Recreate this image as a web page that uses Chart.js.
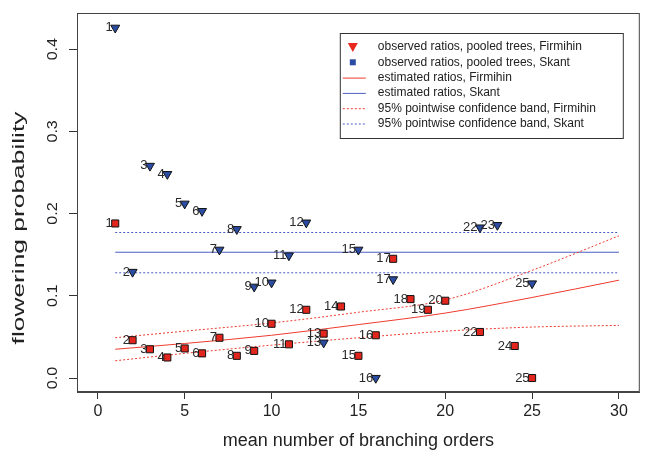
<!DOCTYPE html>
<html>
<head>
<meta charset="utf-8">
<script src="https://cdn.jsdelivr.net/npm/chart.js@4/dist/chart.umd.min.js"></script>
<style>
  html, body { margin: 0; padding: 0; background: #fff; }
</style>
</head>
<body>
<canvas id="chart" width="646" height="450"></canvas>
<script>
// observed ratios, Skant (blue triangles)
const skantIds = [1, 2, 3, 4, 5, 6, 7, 8, 9, 10, 11, 12, 13, 15, 16, 17, 22, 23, 25];
const skantX = [1, 2, 3, 4, 5, 6, 7, 8, 9, 10, 11, 12, 13, 15, 16, 17, 22, 23, 25];
const skantY = [0.426, 0.129, 0.258, 0.248, 0.212, 0.203, 0.156, 0.181, 0.111, 0.116,
  0.149, 0.189, 0.043, 0.156, 0.0, 0.120, 0.183, 0.186, 0.115];

// observed ratios, Firmihin (red squares)
const firmIds = [1, 2, 3, 4, 5, 6, 7, 8, 9, 10, 11, 12, 13, 14, 15, 16, 17, 18, 19, 20, 22, 24, 25];
const firmX = [1, 2, 3, 4, 5, 6, 7, 8, 9, 10, 11, 12, 13, 14, 15, 16, 17, 18, 19, 20, 22, 24, 25];
const firmY = [0.188, 0.046, 0.035, 0.025, 0.036, 0.030, 0.049, 0.027, 0.033, 0.066,
  0.041, 0.083, 0.054, 0.087, 0.027, 0.052, 0.145, 0.096, 0.083, 0.094, 0.056, 0.039, 0.0];

// fitted curves
const curveX = [1, 5, 10, 15, 20, 25, 30];
const firmEst = [0.035, 0.042, 0.052, 0.065, 0.079, 0.098, 0.119];
const firmUp = [0.049, 0.057, 0.067, 0.080, 0.095, 0.131, 0.173];
const firmLo = [0.021, 0.030, 0.040, 0.049, 0.057, 0.062, 0.064];

const lineX = [1, 30];
const skantEst = [0.153, 0.153];
const skantUp = [0.177, 0.177];
const skantLo = [0.128, 0.128];

const xTicks = [0, 5, 10, 15, 20, 25, 30];
const yTicks = [0, 0.1, 0.2, 0.3, 0.4];
const yTickLabels = ["0.0", "0.1", "0.2", "0.3", "0.4"];

const legendItems = [
  { text: "observed ratios, pooled trees, Firmihin", kind: "tri", color: "#e8281e" },
  { text: "observed ratios, pooled trees, Skant", kind: "sq", color: "#2b4ca3" },
  { text: "estimated ratios, Firmihin", kind: "line", color: "#ee3b2e" },
  { text: "estimated ratios, Skant", kind: "line", color: "#4a5ec0" },
  { text: "95% pointwise confidence band, Firmihin", kind: "dot", color: "#ee3b2e" },
  { text: "95% pointwise confidence band, Skant", kind: "dot", color: "#4a5ec0" },
];

const FONT = "'Liberation Sans', Arial, Helvetica, sans-serif";
const RED = "#ee3b2e";
const BLUE = "#4a5ec0";

const pts = (xs, ys) => xs.map((x, i) => ({ x: x, y: ys[i] }));

function curve(xs, ys, color, dash) {
  return {
    type: "line",
    data: pts(xs, ys),
    borderColor: color,
    borderWidth: 1,
    borderDash: dash,
    pointRadius: 0,
    fill: false,
    cubicInterpolationMode: "monotone",
  };
}

// number labels left of each point
const pointLabels = {
  id: "pointLabels",
  afterDatasetsDraw(chart) {
    const ctx = chart.ctx;
    ctx.save();
    ctx.font = "13px " + FONT;
    ctx.fillStyle = "#2a2a2a";
    ctx.textAlign = "right";
    ctx.textBaseline = "middle";
    chart.data.datasets.forEach((ds, di) => {
      if (!ds.ids) return;
      chart.getDatasetMeta(di).data.forEach((el, i) => {
        ctx.fillText(String(ds.ids[i]), el.x - 2.5, el.y);
      });
    });
    ctx.restore();
  },
};

// R style box, y labels and legend
const rFrame = {
  id: "rFrame",
  afterDraw(chart) {
    const ctx = chart.ctx;
    const a = chart.chartArea;
    const ys = chart.scales.y;
    ctx.save();
    ctx.strokeStyle = "#444";
    ctx.lineWidth = 1;
    ctx.strokeRect(a.left + 0.5, a.top + 0.5, a.right - a.left - 1, a.bottom - a.top - 1);

    // rotated y tick labels
    ctx.fillStyle = "#222";
    ctx.textAlign = "center";
    ctx.textBaseline = "middle";
    yTicks.forEach((v, i) => {
      ctx.save();
      ctx.translate(a.left - 24, ys.getPixelForValue(v));
      ctx.rotate(-Math.PI / 2);
      ctx.scale(1.15, 1);
      ctx.font = "14px " + FONT;
      ctx.fillText(yTickLabels[i], 0, 0);
      ctx.restore();
    });

    // y axis title
    ctx.save();
    ctx.translate(19, 228);
    ctx.rotate(-Math.PI / 2);
    ctx.scale(1.55, 1);
    ctx.font = "17px " + FONT;
    ctx.fillText("flowering probability", 0, 0);
    ctx.restore();

    // legend box
    const lx = a.right - 300, ly = a.top + 20, lw = 283, lh = 105;
    ctx.strokeStyle = "#333";
    ctx.strokeRect(lx + 0.5, ly + 0.5, lw, lh);
    ctx.font = "12px " + FONT;
    ctx.textAlign = "left";
    legendItems.forEach((it, i) => {
      const cy = ly + 14 + i * 15.3;
      const sx = lx + 13;
      ctx.fillStyle = it.color;
      ctx.strokeStyle = it.color;
      if (it.kind === "tri") {
        ctx.beginPath();
        ctx.moveTo(sx - 5, cy - 4);
        ctx.lineTo(sx + 5, cy - 4);
        ctx.lineTo(sx, cy + 5);
        ctx.closePath();
        ctx.fill();
      } else if (it.kind === "sq") {
        ctx.fillRect(sx - 3, cy - 3, 6, 6);
      } else {
        ctx.setLineDash(it.kind === "dot" ? [2, 2] : []);
        ctx.beginPath();
        ctx.moveTo(lx + 3, cy + 0.5);
        ctx.lineTo(lx + 26, cy + 0.5);
        ctx.stroke();
        ctx.setLineDash([]);
      }
      ctx.fillStyle = "#222";
      ctx.fillText(it.text, lx + 38, cy);
    });
    ctx.restore();
  },
};

new Chart(document.getElementById("chart"), {
  type: "scatter",
  data: {
    datasets: [
      {
        data: pts(skantX, skantY),
        ids: skantIds,
        pointStyle: "triangle",
        rotation: 180,
        radius: 5.2,
        backgroundColor: "#2b4ca3",
        borderColor: "#111",
        borderWidth: 1,
      },
      {
        data: pts(firmX, firmY),
        ids: firmIds,
        pointStyle: "rect",
        radius: 5,
        backgroundColor: "#e2261d",
        borderColor: "#111",
        borderWidth: 1,
      },
      curve(curveX, firmEst, RED, []),
      curve(curveX, firmUp, RED, [2, 2]),
      curve(curveX, firmLo, RED, [2, 2]),
      curve(lineX, skantEst, BLUE, []),
      curve(lineX, skantUp, BLUE, [2, 2]),
      curve(lineX, skantLo, BLUE, [2, 2]),
    ],
  },
  options: {
    responsive: false,
    animation: false,
    devicePixelRatio: 1,
    layout: { padding: { top: 13, right: 2, left: 0, bottom: 0 } },
    plugins: { legend: { display: false }, tooltip: { enabled: false } },
    scales: {
      x: {
        type: "linear",
        min: -1.2,
        max: 31.2,
        afterBuildTicks: (s) => { s.ticks = xTicks.map((v) => ({ value: v })); },
        afterFit: (s) => { s.height = 58; },
        grid: { drawOnChartArea: false, drawTicks: true, tickLength: 7, color: "#333" },
        border: { display: true, color: "#444" },
        ticks: { color: "#222", font: { size: 16, family: FONT }, padding: 3, maxRotation: 0 },
        title: {
          display: true,
          text: "mean number of branching orders",
          color: "#222",
          font: { size: 18, family: FONT, lineHeight: 1 },
          padding: { top: 4, bottom: 0 },
        },
      },
      y: {
        type: "linear",
        min: -0.017,
        max: 0.444,
        afterBuildTicks: (s) => { s.ticks = yTicks.map((v) => ({ value: v })); },
        afterFit: (s) => { s.width = 77; },
        grid: { drawOnChartArea: false, drawTicks: true, tickLength: 8, color: "#333" },
        border: { display: true, color: "#444" },
        ticks: { display: false },
      },
    },
  },
  plugins: [pointLabels, rFrame],
});
</script>
</body>
</html>
